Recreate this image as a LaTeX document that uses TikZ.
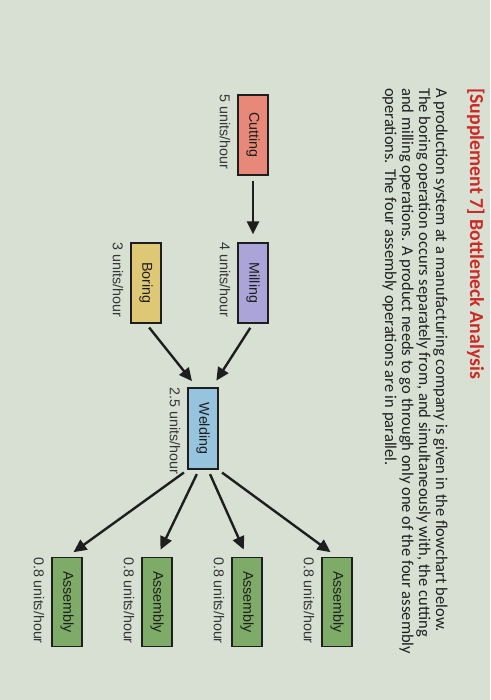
\documentclass[tikz,border=0pt]{standalone}
\usepackage{fontspec}
\setmainfont{Carlito}
\newfontfamily\arialfont{Liberation Sans}
\usetikzlibrary{calc, positioning}
\usetikzlibrary{arrows.meta}

\definecolor{paper}{RGB}{216,224,212}
\definecolor{titlered}{RGB}{205,42,38}
\definecolor{inkgray}{RGB}{30,30,30}
\definecolor{cutfill}{RGB}{232,136,120}
\definecolor{millfill}{RGB}{170,164,216}
\definecolor{borefill}{RGB}{222,200,118}
\definecolor{weldfill}{RGB}{150,196,222}
\definecolor{asmfill}{RGB}{126,172,104}

\begin{document}
\begin{tikzpicture}[x=1pt,y=1pt,rotate=-90,transform shape,
  stage/.style={draw=inkgray,line width=1.2pt,minimum width=80pt,
    minimum height=30pt,inner sep=0pt,text=inkgray,
    font=\arialfont\fontsize{14.3}{16}\selectfont},
  rate/.style={anchor=north west,inner sep=0pt,text=inkgray!90,
    font=\arialfont\fontsize{14.3}{16}\selectfont},
  bodyline/.style={anchor=base west,inner sep=0pt,text=inkgray,
    font=\fontsize{16.5}{18}\selectfont},
  flow/.style={line width=2.4pt,inkgray,
    -{Triangle[length=13pt,width=12pt]},shorten <=5pt,shorten >=8pt}]
\useasboundingbox (0,0) rectangle (700,490);
\fill[paper] (0,0) rectangle (700,490);

% heading and question text
\node[anchor=base west,inner sep=0pt,text=titlered,
  font=\bfseries\fontsize{19.8}{22}\selectfont] (title) at (88,470)
  {[Supplement 7] Bottleneck Analysis};
\foreach \txt [count=\i from 0] in {%
  {A production system at a manufacturing company is given in the flowchart below.},
  {The boring operation occurs separately from, and simultaneously with, the cutting},
  {and milling operations. A product needs to go through only one of the four assembly},
  {operations. The four assembly operations are in parallel.}} {
  \node[bodyline] (line\i) at (88,436-17*\i) {\txt};
}

% stations
\node[stage,fill=cutfill] (cut) at (135,253) {Cutting};
\node[stage,fill=millfill] (mill) at (283,253) {Milling};
\node[stage,fill=borefill] (bore) at (283,146) {Boring};
\node[stage,fill=weldfill,minimum width=81pt] (weld) at (428.5,203) {Welding};
\foreach \i/\y in {1/337,2/247,3/157,4/67} {
  \node[stage,fill=asmfill,minimum width=89pt] (asm\i) at (602,\y) {Assembly};
}

\foreach \n/\r in {cut/5,mill/4,bore/3,weld/2.5,asm1/0.8,asm2/0.8,asm3/0.8,asm4/0.8} {
  \node[rate] (\n rate) at ($(\n.south west)+(0,-7)$) {\r{} units/hour};
}

% flow
\draw[flow] (cut) -- (mill);
\draw[flow] (mill.east) -- ($(weld.west)+(0,9)$);
\draw[flow] (bore.east) -- ($(weld.west)+(0,-6)$);
\foreach \i/\s in {1/15,2/5,3/-4,4/-15} {
  \draw[flow] ($(weld.east)+(0,\s)$) -- (asm\i.west);
}
\end{tikzpicture}
\end{document}
